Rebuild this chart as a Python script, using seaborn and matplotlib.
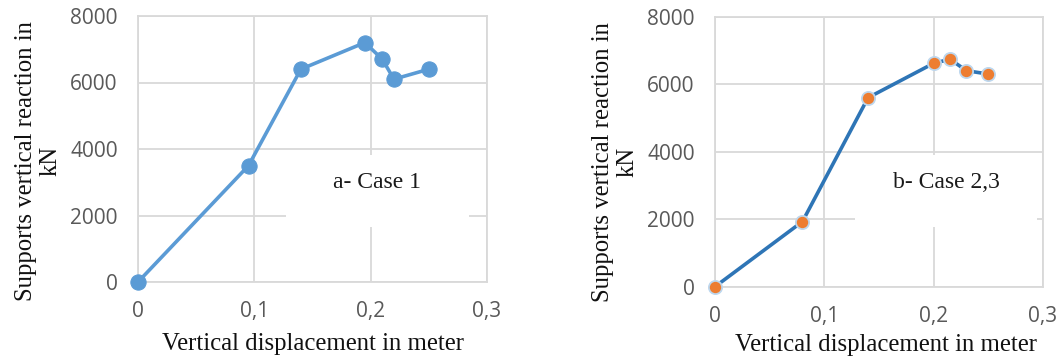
import matplotlib
matplotlib.use("Agg")
import matplotlib.pyplot as plt
import seaborn as sns
import pandas as pd
from matplotlib.patches import Rectangle
from matplotlib.ticker import FuncFormatter

# Data
disp_case1 = [0.0, 0.095, 0.14, 0.195, 0.21, 0.22, 0.25]
react_case1 = [0, 3500, 6400, 7200, 6700, 6100, 6400]
disp_case23 = [0.0, 0.08, 0.14, 0.20, 0.215, 0.23, 0.25]
react_case23 = [0, 1930, 5600, 6620, 6740, 6400, 6300]
x_ticks = [0.0, 0.1, 0.2, 0.3]
y_ticks = [0, 2000, 4000, 6000, 8000]
xlabel = "Vertical displacement in meter"
ylabel = "Supports vertical reaction in\nkN"
titles = ["a- Case 1", "b- Case 2,3"]

sns.set_style("white")
plt.rcParams['font.family'] = ['Open Sans', 'DejaVu Sans']

W, H = 1062, 363
fig = plt.figure(figsize=(W / 100, H / 100), dpi=100)

def px_axes(l, r, t, b):
    return fig.add_axes([l / W, (H - b) / H, (r - l) / W, (b - t) / H])

ax1 = px_axes(138, 487, 16, 282)
ax2 = px_axes(715, 1043, 16.7, 286.7)

grid_c = "#D9D9D9"
tick_c = "#595959"
serif = ['Liberation Serif', 'DejaVu Serif']

def style(ax):
    ax.set_xlim(0, 0.3)
    ax.set_ylim(0, 8000)
    ax.set_xticks(x_ticks)
    ax.set_yticks(y_ticks)
    ax.xaxis.set_major_formatter(FuncFormatter(lambda v, p: ("%g" % round(v, 2)).replace(".", ",")))
    ax.yaxis.set_major_formatter(FuncFormatter(lambda v, p: "%d" % v))
    ax.grid(True, color=grid_c, linewidth=1.3, zorder=0)
    ax.set_axisbelow(True)
    for s in ax.spines.values():
        s.set_color(grid_c)
        s.set_linewidth(1.3)
    ax.tick_params(axis='both', length=0, labelsize=15, labelcolor=tick_c)
    ax.tick_params(axis='y', pad=14.5)
    ax.tick_params(axis='x', pad=14)

style(ax1)
style(ax2)

# white label boxes (interrupting gridlines)
def label_box(ax, l, r, t, b, axl, axr, axt, axb, text, tx, ty):
    x0 = (l - axl) / (axr - axl)
    x1 = (r - axl) / (axr - axl)
    y0 = (axb - b) / (axb - axt)
    y1 = (axb - t) / (axb - axt)
    ax.add_patch(Rectangle((x0, y0), x1 - x0, y1 - y0, transform=ax.transAxes,
                           facecolor="white", edgecolor="none", zorder=1.5))
    ax.text((tx - axl) / (axr - axl), (axb - ty) / (axb - axt), text,
            transform=ax.transAxes, ha="center", va="center",
            fontsize=17, family=serif, color="#1a1a1a", zorder=4)

label_box(ax1, 286, 469, 155, 227, 138, 487, 16, 282, titles[0], 377, 183)
label_box(ax2, 855, 1037, 155, 227, 715, 1043, 16.7, 286.7, titles[1], 946, 183)

df1 = pd.DataFrame({"x": disp_case1, "y": react_case1})
df2 = pd.DataFrame({"x": disp_case23, "y": react_case23})

sns.lineplot(data=df1, x="x", y="y", ax=ax1, color="#5B9BD5", linewidth=2.6,
             marker="o", markersize=11, markerfacecolor="#5B9BD5",
             markeredgecolor="#5B9BD5", sort=False, zorder=3, clip_on=False)
sns.lineplot(data=df2, x="x", y="y", ax=ax2, color="#2E75B6", linewidth=2.6,
             marker="o", markersize=9.5, markerfacecolor="#ED7D31",
             markeredgecolor="#BDD7EE", markeredgewidth=1.3, sort=False,
             zorder=3, clip_on=False)

for ax, xc, yc, xx, xy in [(ax1, -0.218, 0.455, 0.5, -0.19), (ax2, -0.232, 0.462, 0.52, -0.175)]:
    ax.set_xlabel(xlabel, fontsize=17.8, family=serif, color="#111111")
    ax.set_ylabel(ylabel, fontsize=17.8, family=serif, color="#111111", linespacing=1.2)
    ax.yaxis.set_label_coords(xc, yc)
    ax.xaxis.set_label_coords(xx, xy)

fig.savefig("out.png", dpi=100)
